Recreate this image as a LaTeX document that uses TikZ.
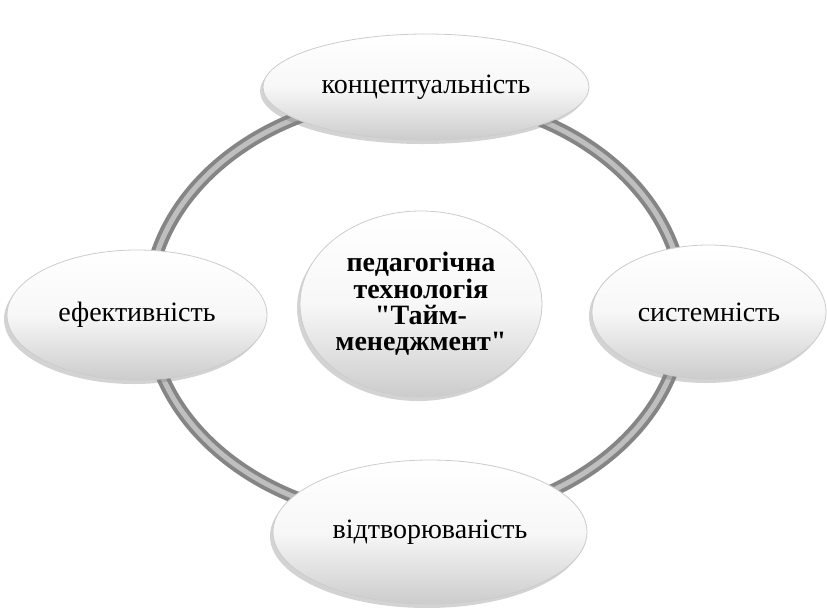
\documentclass[tikz,border=0pt]{standalone}
\usepackage{fontspec}
\setmainfont{Liberation Serif}
\usetikzlibrary{shapes.geometric, shadows, positioning}
\tikzset{
    ring/.style={
        ellipse, draw=black!48, line width=2pt,
        double=black!25, double distance=2.5pt,
        minimum width=268pt, minimum height=212pt, inner sep=0pt
    },
    pill/.style={
        ellipse, draw=black!20, thin,
        top color=white, bottom color=black!20, middle color=black!3,
        drop shadow={opacity=0.35, shadow xshift=-1.5pt, shadow yshift=-2pt},
        inner sep=0pt, font=\fontsize{14}{16}\selectfont
    },
    hub/.style={
        pill, align=center,
        font=\fontsize{14}{13.2}\selectfont\bfseries
    }
}

\begin{document}
\begin{tikzpicture}[x=0.5pt, y=-0.5pt]
\useasboundingbox (0,0) rectangle (827,607);

% Ring
\node[ring] (ring) at (416,308) {};

% Principles
\node[pill, minimum width=163pt, minimum height=53pt] (concept) at (426,87) {концептуальність};
\node[pill, minimum width=130pt, minimum height=65pt] (effect) at (137,315) {ефективність};
\node[pill, minimum width=117pt, minimum height=67pt] (system) at (709,312) {системність};
\node[pill, minimum width=157pt, minimum height=72pt] (repro) at (430,532) {відтворюваність};

% Centre
\node[hub, minimum width=118pt, minimum height=93pt] (tech) at (421,304)
    {педагогічна\\технологія\\\textquotedbl Тайм-\\менеджмент\textquotedbl};

\end{tikzpicture}
\end{document}
